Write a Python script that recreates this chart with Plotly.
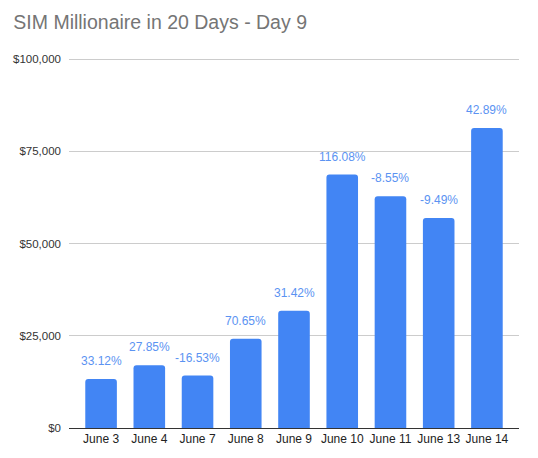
import plotly.graph_objects as go

categories = ["June 3", "June 4", "June 7", "June 8", "June 9", "June 10", "June 11", "June 13", "June 14"]
values = [13300, 17000, 14200, 24200, 31800, 68700, 62800, 56900, 81300]
pct_labels = ["33.12%", "27.85%", "-16.53%", "70.65%", "31.42%", "116.08%", "-8.55%", "-9.49%", "42.89%"]
y_ticks = [0, 25000, 50000, 75000, 100000]
y_tick_labels = ["$0", "$25,000", "$50,000", "$75,000", "$100,000"]

BLUE = "#4285F4"
FONT = "Liberation Sans, Arial"

fig = go.Figure()
fig.add_trace(go.Bar(
    x=categories, y=values,
    marker=dict(color=BLUE, cornerradius=3, line=dict(width=0)),
    hoverinfo="skip",
))

for c, v, t in zip(categories, values, pct_labels):
    fig.add_annotation(x=c, y=v, text=t, showarrow=False, yanchor="bottom",
                       yshift=9, font=dict(family=FONT, size=12, color="#5b93f2"))

# page body has an 8px margin, so the figure is sized to fit the window
fig.update_layout(
    width=530, height=450,
    paper_bgcolor="white", plot_bgcolor="white",
    margin=dict(l=61, r=19, t=50, b=30),
    bargap=0.345,
    showlegend=False,
    title=dict(text="SIM Millionaire in 20 Days - Day 9", x=0.01, xanchor="left",
               y=1 - 14 / 450, yanchor="middle",
               font=dict(family=FONT, size=19.5, color="#757575")),
    font=dict(family=FONT, size=11, color="#444444"),
)
fig.update_xaxes(showline=True, linecolor="#333333", linewidth=1, ticks="",
                 range=[-0.665, len(categories) - 0.335], automargin=False,
                 tickfont=dict(family=FONT, size=12, color="#222222"), showgrid=False)
fig.update_yaxes(range=[0, 100300], tickvals=y_ticks, ticktext=y_tick_labels,
                 showgrid=True, gridcolor="#cccccc", gridwidth=1, zeroline=False,
                 ticks="", ticklabelstandoff=7, automargin=False,
                 tickfont=dict(family=FONT, size=11.5, color="#333333"))

fig.write_html("out.html")
